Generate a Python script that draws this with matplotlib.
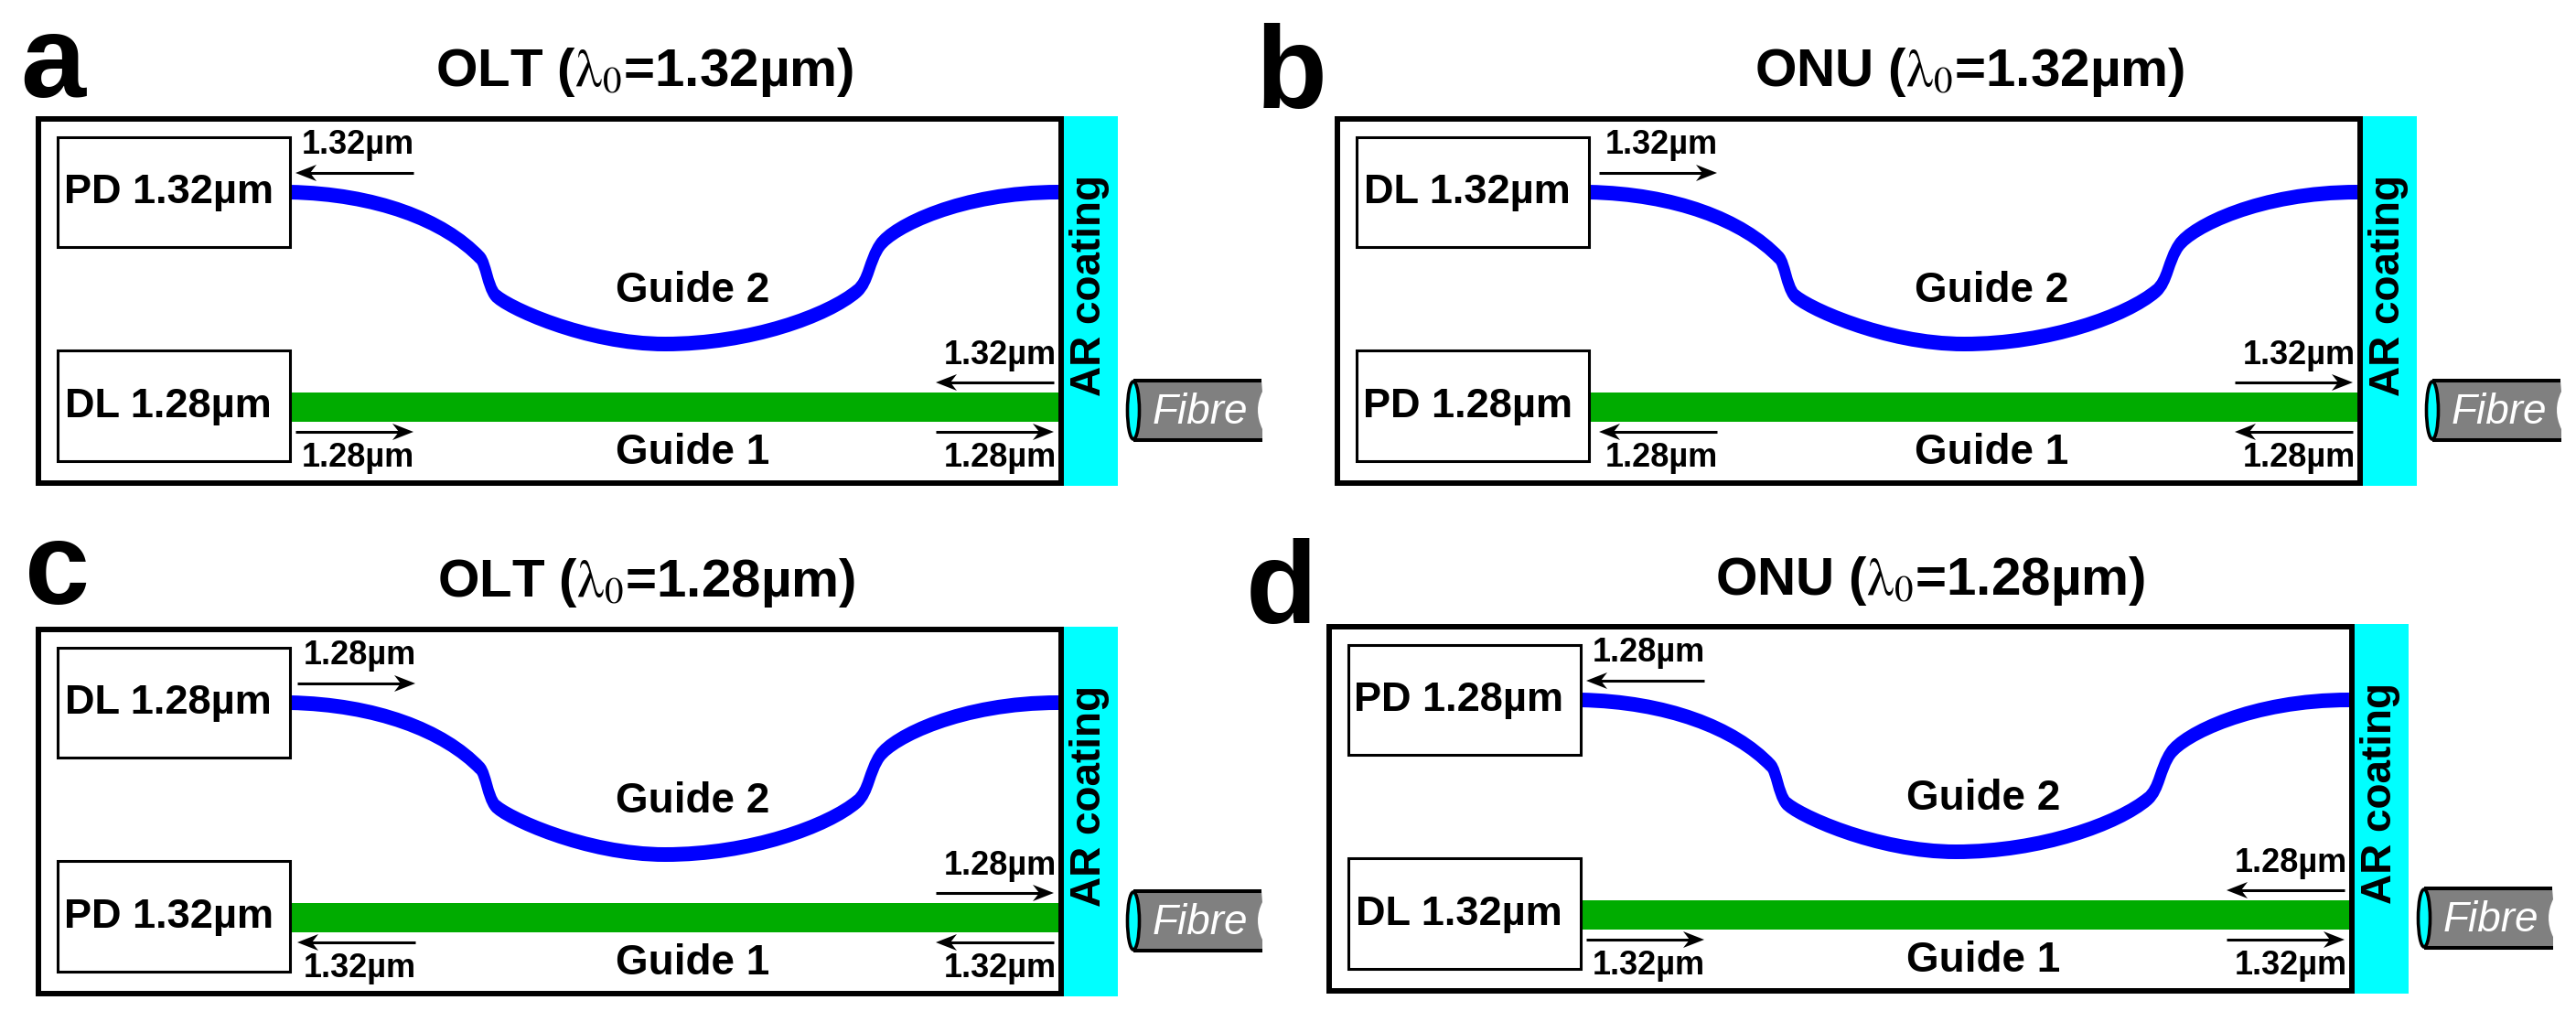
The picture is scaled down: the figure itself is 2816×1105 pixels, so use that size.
import numpy as np
import matplotlib
matplotlib.use('Agg')
import matplotlib.pyplot as plt
from matplotlib.patches import Rectangle, Polygon, Ellipse, PathPatch
from matplotlib.path import Path

plt.rcParams['font.family'] = ['Liberation Sans', 'DejaVu Sans']
plt.rcParams['mathtext.fontset'] = 'stix'

# --- chart content, one entry per panel ---
letters = ['a', 'b', 'c', 'd']
titles = [r'OLT ($\mathrm{\lambda}_{0}$=1.32µm)', r'ONU ($\mathrm{\lambda}_{0}$=1.32µm)',
          r'OLT ($\mathrm{\lambda}_{0}$=1.28µm)', r'ONU ($\mathrm{\lambda}_{0}$=1.28µm)']
top_boxes = ['PD 1.32µm', 'DL 1.32µm', 'DL 1.28µm', 'PD 1.28µm']
bottom_boxes = ['DL 1.28µm', 'PD 1.28µm', 'PD 1.32µm', 'DL 1.32µm']
# wavelength next to guide 2 and on the upper right of guide 1
upper_wavelengths = ['1.32µm', '1.32µm', '1.28µm', '1.28µm']
# wavelength on both lower arrows of guide 1
lower_wavelengths = ['1.28µm', '1.28µm', '1.32µm', '1.32µm']
# +1 means the arrow points right, -1 left
upper_dirs = [-1, 1, 1, -1]
lower_dirs = [1, -1, -1, 1]

# --- layout, pixels of panel a ---
panel_dx = [0, 1420, 0, 1411]
panel_dy = [0, 0, 558, 555]
left_nudge = [0, 5, 2, 0]
letter_pos = [(22, 106), (1373, 118), (27, 660), (1362, 681)]
title_pos = [(476, 94), (1918, 94), (478, 652), (1875, 650)]

# guide 2 centre line, cubic bezier pieces
guide2_x = [317, 410, 485, 525, 531, 533, 541, 552, 640, 727,
            820, 905, 937, 950, 950, 962, 976, 1050, 1157]
guide2_y = [210, 212, 240, 282, 288, 312, 322, 335, 376, 376,
            376, 345, 318, 307, 285, 268, 248, 210, 210]

BLUE = '#0000ff'
GREEN = '#00ac00'
CYAN = '#00ffff'
GREY = '#808080'

fig = plt.figure(figsize=(28.16, 11.05), dpi=100)
ax = fig.add_axes([0, 0, 1, 1])
ax.set_xlim(0, 2816)
ax.set_ylim(1105, 0)
ax.axis('off')


def label(x, y, s, size, **kw):
    kw.setdefault('weight', 'bold')
    kw.setdefault('va', 'baseline')
    return ax.text(x, y, s, fontsize=size, color=kw.pop('color', 'black'), **kw)


def guide2_outline():
    # band around the centre line, thicker vertically than sideways
    # (the original figure was stretched)
    verts = np.column_stack([guide2_x, guide2_y]).astype(float)
    codes = [Path.MOVETO] + [Path.CURVE4] * (len(verts) - 1)
    line = Path(verts, codes).to_polygons(closed_only=False)[0]
    d = np.gradient(line, axis=0)
    n = np.column_stack([-d[:, 1], d[:, 0]]) / np.hypot(d[:, 0], d[:, 1])[:, None]
    off = n * [6.0, 8.0]
    return np.vstack([line + off, (line - off)[::-1]])


def arrow(x0, x1, y, direction):
    tip = x1 if direction > 0 else x0
    tail = x0 if direction > 0 else x1
    ax.plot([tail, tip - direction * 14], [y, y], color='black', lw=2.2,
            solid_capstyle='butt')
    head = [(tip, y), (tip - direction * 23, y - 9),
            (tip - direction * 16, y), (tip - direction * 23, y + 9)]
    ax.add_patch(Polygon(head, closed=True, fc='black', ec='none'))


def fibre(dx, dy):
    x0, x1, y0, y1 = 1239 + dx, 1379 + dx, 416 + dy, 481 + dy
    verts = [(x0, y0), (x1, y0), (x1 + 1, y0 + 12), (x1 - 9, y0 + 32),
             (x1 + 1, y1 - 12), (x1 + 1, y1), (x0, y1), (x0, y0)]
    codes = [Path.MOVETO, Path.LINETO, Path.LINETO, Path.CURVE3,
             Path.CURVE3, Path.LINETO, Path.LINETO, Path.CLOSEPOLY]
    ax.add_patch(PathPatch(Path(verts, codes), fc=GREY, ec='none'))
    ax.plot([x0, x1], [y0, y0], color='black', lw=2.9, solid_capstyle='butt')
    ax.plot([x0, x1 + 1], [y1, y1], color='black', lw=2.9, solid_capstyle='butt')
    ax.add_patch(Ellipse((x0, (y0 + y1) / 2), 13, y1 - y0 - 2, fc=CYAN,
                         ec='black', lw=2.6))
    label(1260 + dx, 463 + dy, 'Fibre', 33, weight='normal', style='italic',
          color='white')


# --- panels ---
for i in range(4):
    dx, dy = panel_dx[i], panel_dy[i]
    lx = dx + left_nudge[i]

    ax.add_patch(Rectangle((1163 + dx, 127 + dy), 59, 404, fc=CYAN, ec='none'))
    ax.add_patch(Rectangle((42 + dx, 130 + dy), 1118, 398, fc='white',
                           ec='black', lw=4.3))

    ax.add_patch(Rectangle((318 + dx, 429 + dy), 839, 32, fc=GREEN, ec='none'))
    ax.add_patch(Polygon(guide2_outline() + [dx, dy], closed=True, fc=BLUE,
                         ec='none'))

    ax.add_patch(Rectangle((63 + dx, 150 + dy), 254, 120, fc='white',
                           ec='black', lw=2.2))
    ax.add_patch(Rectangle((63 + dx, 383 + dy), 254, 121, fc='white',
                           ec='black', lw=2.2))

    label(184 + dx, 222 + dy, top_boxes[i], 32.5, ha='center')
    label(184 + dx, 456 + dy, bottom_boxes[i], 32.5, ha='center')
    label(757 + dx, 330 + dy, 'Guide 2', 33, ha='center')
    label(757 + dx, 507 + dy, 'Guide 1', 33, ha='center')
    label(1203 + dx, 433 + dy, 'AR coating', 33, rotation=90, ha='left',
          rotation_mode='anchor')

    up, low = upper_wavelengths[i], lower_wavelengths[i]
    label(330 + lx, 168 + dy, up, 26)
    label(1155 + dx, 398 + dy, up, 26, ha='right')
    label(330 + lx, 510 + dy, low, 26)
    label(1155 + dx, 510 + dy, low, 26, ha='right')

    arrow(323 + lx, 452 + lx, 189 + dy, upper_dirs[i])
    arrow(1023 + dx, 1152 + dx, 418 + dy, upper_dirs[i])
    arrow(323 + lx, 452 + lx, 472 + dy, lower_dirs[i])
    arrow(1023 + dx, 1152 + dx, 472 + dy, lower_dirs[i])

    fibre(dx, dy)

    label(letter_pos[i][0], letter_pos[i][1], letters[i], 92)
    label(title_pos[i][0], title_pos[i][1], titles[i], 42)

fig.savefig('out.png', dpi=100)
